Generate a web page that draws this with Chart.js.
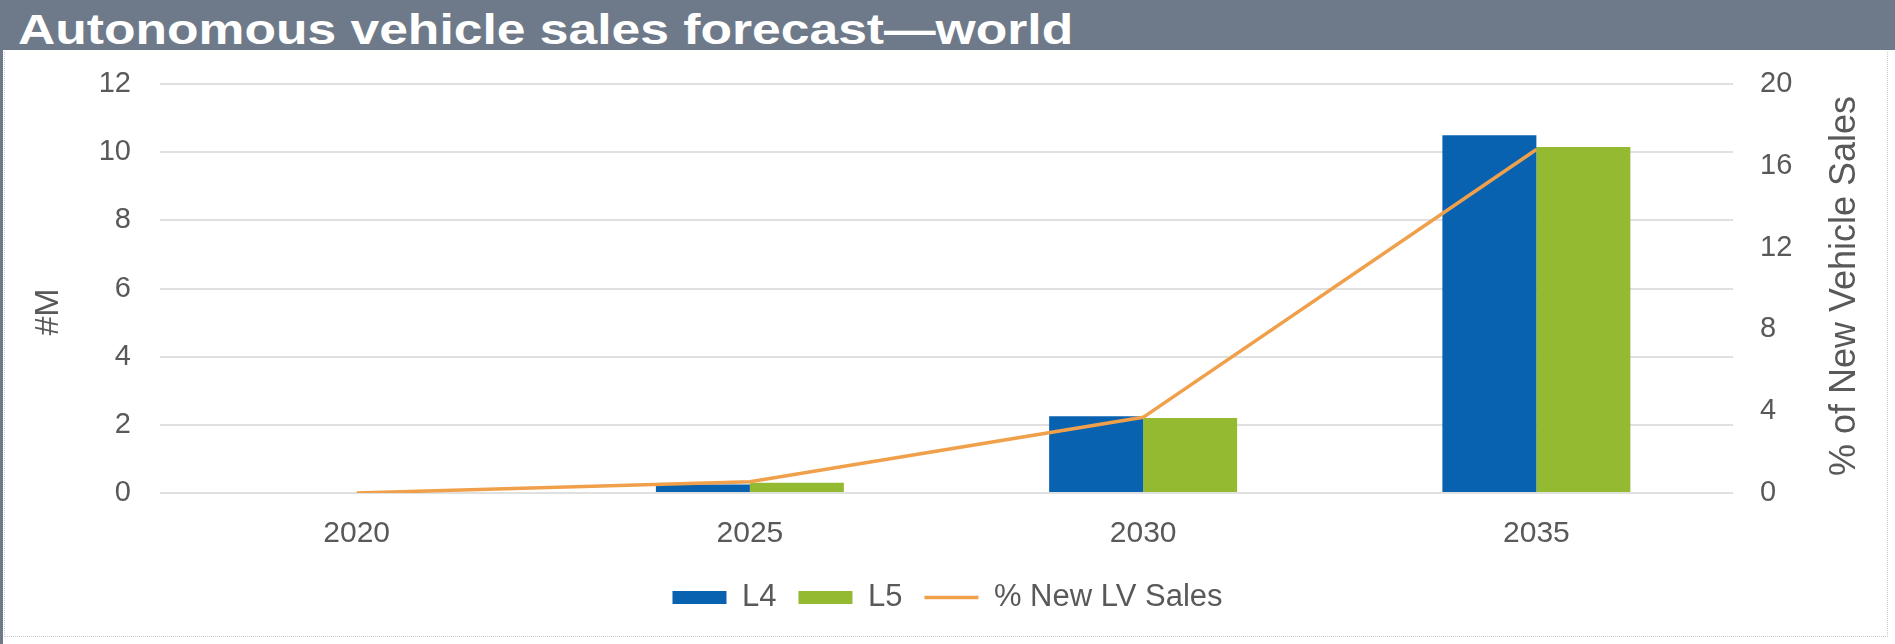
<!DOCTYPE html>
<html>
<head>
<meta charset="utf-8">
<script src="https://cdn.jsdelivr.net/npm/chart.js@4.4.1/dist/chart.umd.min.js"></script>
<style>
    html, body { margin: 0; padding: 0; background: #fff; }
    #page { position: relative; width: 1895px; height: 644px; overflow: hidden; background: #fff; }
    #titlebar {
        position: absolute; left: 0; top: 0; width: 1895px; height: 50px;
        background: #6e7a89;
    }
    #titlebar h1 {
        position: absolute; left: 18px; top: 4px; margin: 0;
        font-family: "Liberation Sans", Arial, sans-serif; font-weight: bold;
        font-size: 43px; line-height: 50px; color: #fff; white-space: nowrap;
        transform: scaleX(1.2); transform-origin: left center;
    }
    #frame {
        position: absolute; left: 4px; top: 52px; width: 1882px; height: 584px;
        border: 1px dotted #c8cdd3; border-top: none;
    }
    #edge { position: absolute; left: 0; top: 50px; width: 3px; height: 594px; background: #6e7a89; }
    #wrap { position: absolute; left: 0; top: 51px; width: 1895px; height: 585px; }
</style>
</head>
<body>
<div id="page">
    <div id="titlebar"><h1>Autonomous vehicle sales forecast—world</h1></div>
    <div id="edge"></div>
    <div id="frame"></div>
    <div id="wrap"><canvas id="salesChart"></canvas></div>
</div>
<script>
// valores
const years = ['2020', '2025', '2030', '2035'];
const l4Sales = [0, 0.25, 2.25, 10.5];      // milhões
const l5Sales = [0, 0.3, 2.2, 10.15];       // milhões
const newLvShare = [0, 0.55, 3.7, 16.8];    // % das vendas
const leftTicks = [0, 2, 4, 6, 8, 10, 12];
const rightTicks = [0, 4, 8, 12, 16, 20];

const FONT = '"Liberation Sans", Arial, sans-serif';
const GRAY = '#595959';

// títulos dos eixos (o da direita lê de baixo para cima)
const axisTitles = {
    id: 'axisTitles',
    afterDraw(chart) {
        const ctx = chart.ctx;
        ctx.save();
        ctx.fillStyle = GRAY;
        ctx.textAlign = 'center';
        ctx.textBaseline = 'middle';

        ctx.font = '34px ' + FONT;
        ctx.save();
        ctx.translate(49, 261);
        ctx.rotate(-Math.PI / 2);
        ctx.fillText('#M', 0, 0);
        ctx.restore();

        ctx.font = '36px ' + FONT;
        ctx.save();
        ctx.translate(1845, 235);
        ctx.rotate(-Math.PI / 2);
        ctx.fillText('% of New Vehicle Sales', 0, 0);
        ctx.restore();

        ctx.restore();
    }
};

// largura fixa dos eixos e sem folga extra em cima
function fixAxis(width) {
    return function(scale) {
        scale.width = width;
        scale.paddingTop = 0;
        scale.paddingBottom = 0;
    };
}

const ctx = document.getElementById('salesChart').getContext('2d');

new Chart(ctx, {
    type: 'bar',
    data: {
        labels: years,
        datasets: [{
            label: 'L4',
            data: l4Sales,
            backgroundColor: '#0862b0',
            yAxisID: 'y',
            order: 1
        }, {
            label: 'L5',
            data: l5Sales,
            backgroundColor: '#93ba31',
            yAxisID: 'y',
            order: 1
        }, {
            type: 'line',
            label: '% New LV Sales',
            data: newLvShare,
            borderColor: '#f0a04b',
            backgroundColor: '#f0a04b',
            borderWidth: 3.5,
            pointRadius: 0,
            tension: 0,
            yAxisID: 'y1',
            order: 0
        }]
    },
    options: {
        responsive: true,
        maintainAspectRatio: false,
        animation: false,
        layout: { padding: { top: 33, bottom: 13, left: 0, right: 0 } },
        datasets: {
            bar: { categoryPercentage: 0.478, barPercentage: 1.0 }
        },
        plugins: {
            legend: {
                position: 'bottom',
                labels: {
                    color: GRAY,
                    font: { family: FONT, size: 31 },
                    usePointStyle: true,
                    pointStyleWidth: 54,
                    boxHeight: 13,
                    padding: 22,
                    sort: (a, b) => a.datasetIndex - b.datasetIndex,
                    generateLabels(chart) {
                        return chart.data.datasets.map((ds, i) => ({
                            text: ds.label,
                            fillStyle: ds.backgroundColor,
                            strokeStyle: ds.type === 'line' ? ds.borderColor : ds.backgroundColor,
                            lineWidth: ds.type === 'line' ? 3.5 : 0,
                            pointStyle: ds.type === 'line' ? 'line' : 'rect',
                            fontColor: GRAY,
                            hidden: false,
                            datasetIndex: i
                        }));
                    }
                }
            },
            tooltip: { enabled: false }
        },
        scales: {
            x: {
                grid: { display: false },
                border: { display: false },
                ticks: { color: GRAY, font: { family: FONT, size: 30 }, padding: 15 },
                afterFit(scale) { scale.height = 67; }
            },
            y: {
                position: 'left',
                min: 0,
                max: 12,
                afterBuildTicks(scale) { scale.ticks = leftTicks.map(v => ({ value: v })); },
                afterFit: fixAxis(160),
                grid: { color: '#e0e0e0', lineWidth: 2, drawTicks: false },
                border: { display: false },
                ticks: { color: GRAY, font: { family: FONT, size: 29 }, padding: 29 }
            },
            y1: {
                position: 'right',
                min: 0,
                max: 20,
                afterBuildTicks(scale) { scale.ticks = rightTicks.map(v => ({ value: v })); },
                afterFit: fixAxis(162),
                grid: { drawOnChartArea: false, drawTicks: false },
                border: { display: false },
                ticks: { color: GRAY, font: { family: FONT, size: 29 }, padding: 27 }
            }
        }
    },
    plugins: [axisTitles]
});
</script>
</body>
</html>
